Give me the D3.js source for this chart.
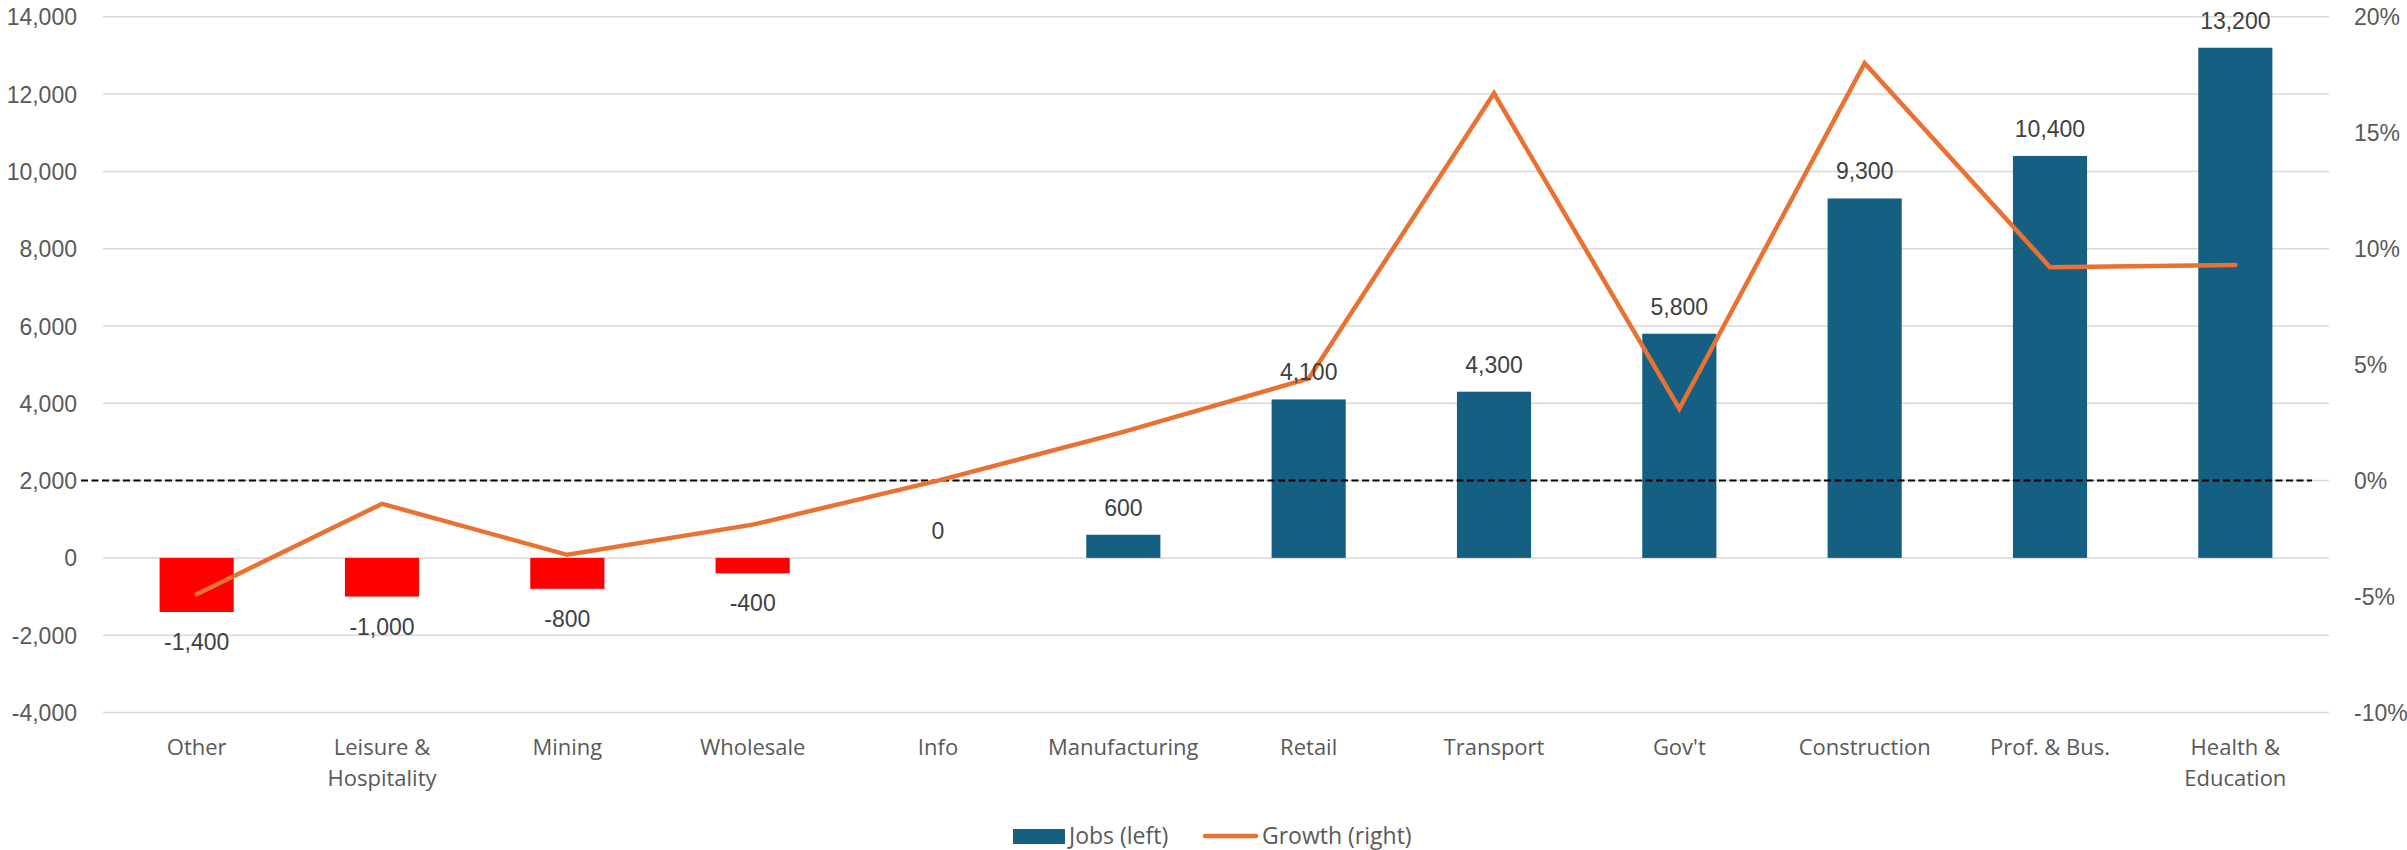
<!DOCTYPE html>
<html>
<head>
<meta charset="utf-8">
<script src="https://cdn.jsdelivr.net/npm/d3@7"></script>
<style>
  html, body { margin: 0; padding: 0; background: #ffffff; }
  svg { display: block; }
</style>
</head>
<body>
<svg id="chart" width="2407" height="850"></svg>
<script>
// ---- Data ----
const categories = ["Other", "Leisure & Hospitality", "Mining", "Wholesale", "Info", "Manufacturing",
  "Retail", "Transport", "Gov't", "Construction", "Prof. & Bus.", "Health & Education"];
const categoryLines = [["Other"], ["Leisure &", "Hospitality"], ["Mining"], ["Wholesale"], ["Info"], ["Manufacturing"],
  ["Retail"], ["Transport"], ["Gov't"], ["Construction"], ["Prof. & Bus."], ["Health &", "Education"]];
const jobs = [-1400, -1000, -800, -400, 0, 600, 4100, 4300, 5800, 9300, 10400, 13200];
const growth = [-4.9, -1.0, -3.2, -1.9, 0.0, 2.1, 4.4, 16.7, 3.1, 18.0, 9.2, 9.3];
const leftTicks = [-4000, -2000, 0, 2000, 4000, 6000, 8000, 10000, 12000, 14000];
const rightTicks = [-10, -5, 0, 5, 10, 15, 20];
const seriesNames = ["Jobs (left)", "Growth (right)"];

// ---- Layout ----
const svg = d3.select("#chart");
const plotLeft = 104, plotRight = 2328, plotTop = 16.8, plotBottom = 712.5;
const colBar = "#156082", colNeg = "#FF0000", colLine = "#E97132";
const fmt = d => d3.format(",")(d).replace("\u2212", "-");

const x = d3.scaleBand().domain(categories).range([plotLeft, plotRight]).paddingInner(0).paddingOuter(0);
const yL = d3.scaleLinear().domain([-4000, 14000]).range([plotBottom, plotTop]);
const yR = d3.scaleLinear().domain([-10, 20]).range([plotBottom, plotTop]);

// gridlines
svg.append("g").selectAll("line").data(leftTicks).join("line")
  .attr("x1", plotLeft - 1).attr("x2", plotRight + 1)
  .attr("y1", d => yL(d)).attr("y2", d => yL(d))
  .attr("stroke", "#d9d9d9").attr("stroke-width", 1.5);

// left axis
const axL = d3.axisLeft(yL).tickValues(leftTicks).tickSize(0).tickPadding(0).tickFormat(fmt);
const gL = svg.append("g").attr("transform", `translate(77,0)`).call(axL);
gL.select(".domain").remove();
gL.selectAll("text").attr("font-family", "Liberation Sans, Arial, sans-serif")
  .attr("font-size", 23).attr("fill", "#595959").attr("dy", "0.35em").attr("x", 0);

// right axis
const axR = d3.axisRight(yR).tickValues(rightTicks).tickSize(0).tickPadding(0)
  .tickFormat(d => String(d) + "%");
const gR = svg.append("g").attr("transform", `translate(2354,0)`).call(axR);
gR.select(".domain").remove();
gR.selectAll("text").attr("font-family", "Liberation Sans, Arial, sans-serif")
  .attr("font-size", 23).attr("fill", "#595959").attr("dy", "0.35em").attr("x", 0);

// bars
const barW = x.bandwidth() * 0.4;
svg.append("g").selectAll("rect").data(categories).join("rect")
  .attr("x", d => x(d) + x.bandwidth() / 2 - barW / 2)
  .attr("width", barW)
  .attr("y", (d, i) => Math.min(yL(jobs[i]), yL(0)))
  .attr("height", (d, i) => Math.abs(yL(jobs[i]) - yL(0)))
  .attr("fill", (d, i) => jobs[i] < 0 ? colNeg : colBar);

// dashed zero-growth line
svg.append("line")
  .attr("x1", 81).attr("x2", 2312)
  .attr("y1", yR(0)).attr("y2", yR(0))
  .attr("stroke", "#000").attr("stroke-width", 2).attr("stroke-dasharray", "7,3.5");

// growth line
const line = d3.line()
  .x((d, i) => x(categories[i]) + x.bandwidth() / 2)
  .y(d => yR(d));
svg.append("path").datum(growth)
  .attr("d", line).attr("fill", "none")
  .attr("stroke", colLine).attr("stroke-width", 4.5)
  .attr("stroke-linecap", "round").attr("stroke-linejoin", "miter");

// data labels
svg.append("g").selectAll("text").data(categories).join("text")
  .attr("x", d => x(d) + x.bandwidth() / 2)
  .attr("y", (d, i) => jobs[i] < 0 ? yL(jobs[i]) + 38 : yL(jobs[i]) - 19)
  .attr("text-anchor", "middle")
  .attr("font-family", "Liberation Sans, Arial, sans-serif")
  .attr("font-size", 23).attr("fill", "#404040")
  .text((d, i) => fmt(jobs[i]));

// category labels
const gC = svg.append("g");
categories.forEach((c, i) => {
  const t = gC.append("text")
    .attr("x", x(c) + x.bandwidth() / 2).attr("y", 755)
    .attr("text-anchor", "middle")
    .attr("font-family", "Open Sans, Noto Sans, sans-serif")
    .attr("font-size", 22).attr("fill", "#595959");
  categoryLines[i].forEach((ln, j) => {
    t.append("tspan").attr("x", x(c) + x.bandwidth() / 2).attr("dy", j === 0 ? 0 : 31).text(ln);
  });
});

// legend
const lg = svg.append("g");
lg.append("rect").attr("x", 1013).attr("y", 829).attr("width", 52).attr("height", 15).attr("fill", colBar);
lg.append("text").attr("x", 1069).attr("y", 836).attr("dy", "0.35em")
  .attr("font-family", "Open Sans, Noto Sans, sans-serif").attr("font-size", 23).attr("fill", "#595959")
  .text(seriesNames[0]);
lg.append("line").attr("x1", 1205).attr("x2", 1256).attr("y1", 836).attr("y2", 836)
  .attr("stroke", colLine).attr("stroke-width", 4.5).attr("stroke-linecap", "round");
lg.append("text").attr("x", 1262).attr("y", 836).attr("dy", "0.35em")
  .attr("font-family", "Open Sans, Noto Sans, sans-serif").attr("font-size", 23).attr("fill", "#595959")
  .text(seriesNames[1]);
</script>
</body>
</html>
